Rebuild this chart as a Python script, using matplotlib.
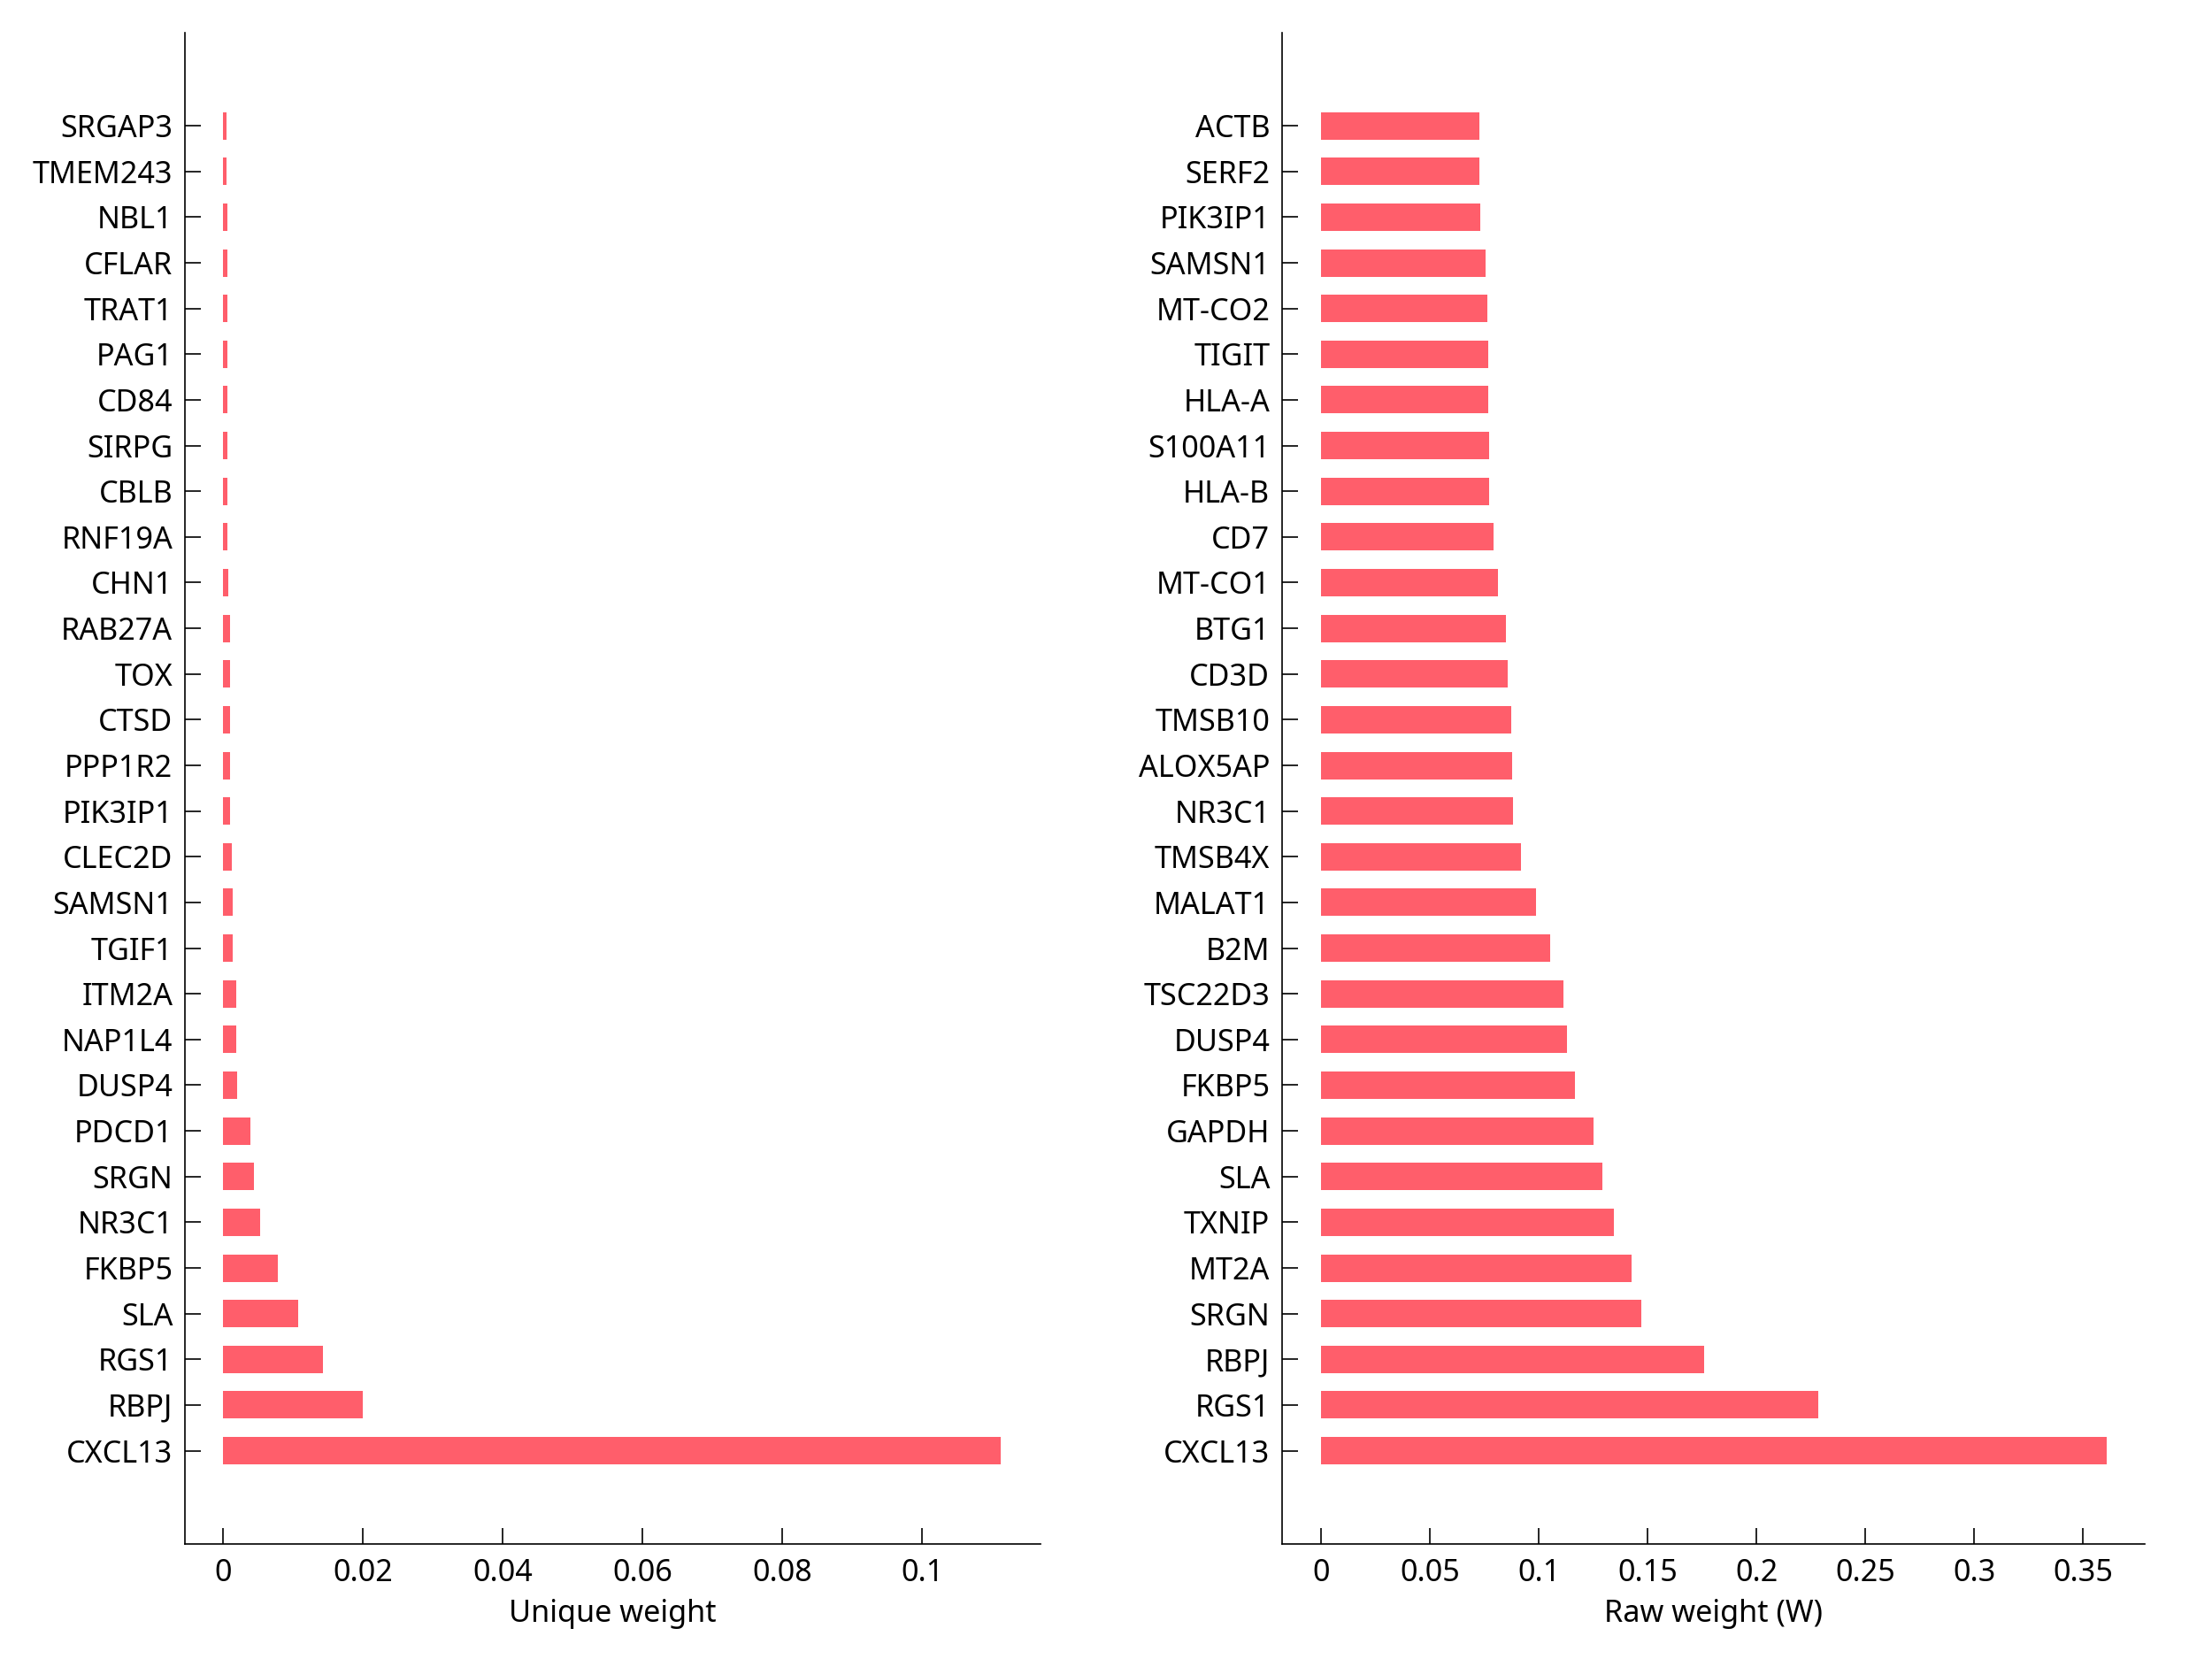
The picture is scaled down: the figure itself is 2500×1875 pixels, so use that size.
import numpy as np
import matplotlib.pyplot as plt
from matplotlib.ticker import FuncFormatter

plt.rcParams['font.family'] = ['Noto Sans', 'DejaVu Sans']
plt.rcParams['font.size'] = 12

# genes listed top to bottom, as shown in the chart
unique_genes = ["SRGAP3", "TMEM243", "NBL1", "CFLAR", "TRAT1", "PAG1", "CD84",
                "SIRPG", "CBLB", "RNF19A", "CHN1", "RAB27A", "TOX", "CTSD",
                "PPP1R2", "PIK3IP1", "CLEC2D", "SAMSN1", "TGIF1", "ITM2A",
                "NAP1L4", "DUSP4", "PDCD1", "SRGN", "NR3C1", "FKBP5", "SLA",
                "RGS1", "RBPJ", "CXCL13"]
unique_vals = [0.0005, 0.0005, 0.00055, 0.00055, 0.00055, 0.0006, 0.0006,
               0.0006, 0.00063, 0.00063, 0.00072, 0.00093, 0.00093, 0.00097,
               0.001, 0.001, 0.00118, 0.00135, 0.00135, 0.0019,
               0.0019, 0.002, 0.00394, 0.00444, 0.00534, 0.00777, 0.01069,
               0.01433, 0.01992, 0.1112]

raw_genes = ["ACTB", "SERF2", "PIK3IP1", "SAMSN1", "MT-CO2", "TIGIT", "HLA-A",
             "S100A11", "HLA-B", "CD7", "MT-CO1", "BTG1", "CD3D", "TMSB10",
             "ALOX5AP", "NR3C1", "TMSB4X", "MALAT1", "B2M", "TSC22D3",
             "DUSP4", "FKBP5", "GAPDH", "SLA", "TXNIP", "MT2A", "SRGN",
             "RBPJ", "RGS1", "CXCL13"]
raw_vals = [0.0726, 0.0726, 0.0732, 0.0755, 0.0763, 0.0766, 0.0767,
            0.0771, 0.0772, 0.0791, 0.0814, 0.0850, 0.0858, 0.0874,
            0.0878, 0.0881, 0.0918, 0.0986, 0.1053, 0.1111,
            0.1130, 0.1165, 0.1252, 0.1290, 0.1346, 0.1426, 0.1472,
            0.1760, 0.2285, 0.3607]

unique_ticks = [0, 0.02, 0.04, 0.06, 0.08, 0.1]
raw_ticks = [0, 0.05, 0.1, 0.15, 0.2, 0.25, 0.3, 0.35]

bar_color = "#ff5e6b"

fig = plt.figure(figsize=(12.5, 9.375), dpi=200)
ax1 = fig.add_axes([0.0837, 0.0691, 0.3866, 0.9110])
ax2 = fig.add_axes([0.5797, 0.0691, 0.3900, 0.9110])


def draw(ax, genes, vals, ticks, xlim, xlabel):
    n = len(genes)
    pos = np.arange(n, 0, -1)
    ax.barh(pos, vals, height=0.6, color=bar_color, edgecolor="none")
    ax.set_yticks(pos)
    ax.set_yticklabels(genes)
    ax.set_xticks(ticks)
    ax.xaxis.set_major_formatter(FuncFormatter(lambda v, p: f"{v:g}"))
    ax.set_xlim(*xlim)
    ax.set_ylim(-1.05, n + 2.03)
    for s in ["top", "right"]:
        ax.spines[s].set_visible(False)
    for s in ["left", "bottom"]:
        ax.spines[s].set_linewidth(0.6)
    ax.tick_params(axis="both", direction="in", length=6.4, width=0.6,
                   labelsize=12.3, colors="black")
    ax.tick_params(axis="y", pad=5)
    ax.tick_params(axis="x", pad=5.5)
    ax.set_xlabel(xlabel, fontsize=12.3, labelpad=4.5)


draw(ax1, unique_genes, unique_vals, unique_ticks, (-0.00544, 0.11689), "Unique weight")
draw(ax2, raw_genes, raw_vals, raw_ticks, (-0.01789, 0.37846), "Raw weight (W)")

fig.savefig("out.png", dpi=200)
